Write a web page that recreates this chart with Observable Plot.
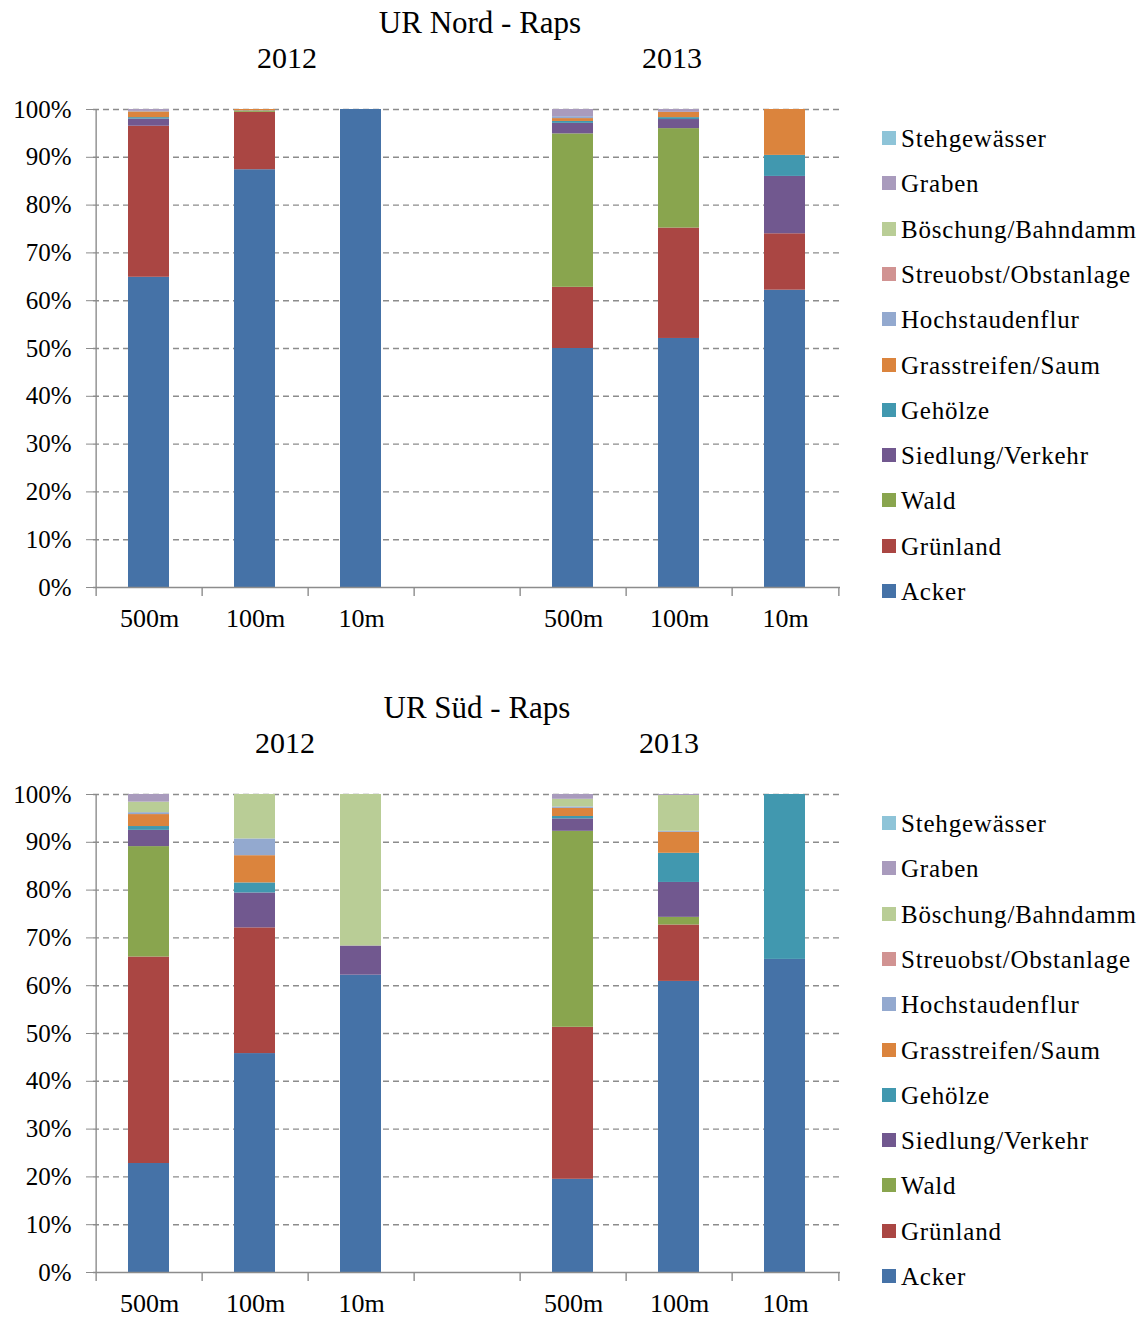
<!DOCTYPE html>
<html>
<head>
<meta charset="utf-8">
<script src="https://cdn.jsdelivr.net/npm/d3@7"></script>
<script src="https://cdn.jsdelivr.net/npm/@observablehq/plot@0.6"></script>
<style>
  html, body { margin: 0; padding: 0; background: #fff; }
  #root { position: relative; width: 1148px; height: 1318px; overflow: hidden; font-family: 'Liberation Serif', 'Times New Roman', serif; color: #000; }
  .panel { position: absolute; left: 0; width: 1148px; height: 685px; }
  .panel svg { position: absolute; left: 0; top: 0; }
  .lbl { position: absolute; white-space: nowrap; line-height: 1; transform: translate(-50%, -50%); }
  .leg { position: absolute; left: 882px; height: 14px; }
  .leg .sw { position: absolute; left: 0; top: 0; width: 14px; height: 14px; }
  .leg .tx { position: absolute; left: 19px; top: 7px; transform: translateY(-50%); font-size: 25px; line-height: 1; white-space: nowrap; letter-spacing: 0.8px; }
</style>
</head>
<body>
<div id="root"></div>
<script>
// ---- categories ----
const years = ["2012", "2013"];
const distances = ["500m", "100m", "10m"];
const slots = ["2012|500m", "2012|100m", "2012|10m", "gap", "2013|500m", "2013|100m", "2013|10m"];
const barKeys = ["2012|500m", "2012|100m", "2012|10m", "2013|500m", "2013|100m", "2013|10m"];

// ---- series (bottom to top) ----
const series = ["Acker", "Grünland", "Wald", "Siedlung/Verkehr", "Gehölze", "Grasstreifen/Saum",
  "Hochstaudenflur", "Streuobst/Obstanlage", "Böschung/Bahndamm", "Graben", "Stehgewässer"];
const colors = ["#4572A7", "#AA4643", "#89A54E", "#71588F", "#4198AF", "#DB843D",
  "#93A9CF", "#D19392", "#B9CD96", "#A99BBD", "#8EC4D8"];

// ---- y ticks ----
const yTicks = [0, 10, 20, 30, 40, 50, 60, 70, 80, 90, 100];

// ---- UR Nord - Raps values (% per bar, order of barKeys) ----
const nordAcker        = [64.9, 87.4, 100, 50.0, 52.1, 62.2];
const nordGruenland    = [31.6, 12.0, 0, 12.8, 23.1, 11.8];
const nordWald         = [0, 0.2, 0, 32.1, 20.8, 0];
const nordSiedlung     = [1.5, 0, 0, 2.2, 1.9, 12.0];
const nordGehoelze     = [0.3, 0.1, 0, 0.4, 0.4, 4.4];
const nordGras         = [1.2, 0.3, 0, 0.6, 1.1, 9.6];
const nordHochstauden  = [0.1, 0, 0, 0.4, 0, 0];
const nordStreuobst    = [0, 0, 0, 0, 0, 0];
const nordBoeschung    = [0, 0, 0, 0, 0, 0];
const nordGraben       = [0.4, 0, 0, 1.5, 0.6, 0];
const nordSteh         = [0, 0, 0, 0, 0, 0];

// ---- UR Süd - Raps values ----
const suedAcker        = [22.8, 45.8, 62.2, 19.5, 60.9, 65.5];
const suedGruenland    = [43.2, 26.3, 0, 31.8, 11.8, 0];
const suedWald         = [23.1, 0, 0, 41.0, 1.6, 0];
const suedSiedlung     = [3.4, 7.3, 6.1, 2.6, 7.3, 0];
const suedGehoelze     = [0.8, 2.1, 0, 0.5, 6.1, 34.5];
const suedGras         = [2.5, 5.7, 0, 1.7, 4.4, 0];
const suedHochstauden  = [0.4, 3.5, 0, 0.3, 0.2, 0];
const suedStreuobst    = [0, 0, 0, 0, 0, 0];
const suedBoeschung    = [2.2, 9.3, 31.7, 1.6, 7.5, 0];
const suedGraben       = [1.6, 0, 0, 1.0, 0.2, 0];
const suedSteh         = [0, 0, 0, 0, 0, 0];

const nordValues = [nordAcker, nordGruenland, nordWald, nordSiedlung, nordGehoelze, nordGras,
  nordHochstauden, nordStreuobst, nordBoeschung, nordGraben, nordSteh];
const suedValues = [suedAcker, suedGruenland, suedWald, suedSiedlung, suedGehoelze, suedGras,
  suedHochstauden, suedStreuobst, suedBoeschung, suedGraben, suedSteh];

const root = document.getElementById("root");

function panel(title, titleX, yearXs, values, top) {
  const div = document.createElement("div");
  div.className = "panel";
  div.style.top = top + "px";
  root.appendChild(div);

  const data = [];
  series.forEach((s, si) => barKeys.forEach((k, bi) => {
    const v = values[si][bi];
    if (v > 0) data.push({slot: k, series: s, value: v});
  }));

  const W = 860, H = 640, ML = 93, MR = 20, MT = 109, MB = 53;
  const bw = (W - ML - MR) / slots.length;
  const gray = "#8c8c8c";

  const plot = Plot.plot({
    width: W, height: H,
    marginLeft: ML, marginRight: MR, marginTop: MT, marginBottom: MB,
    style: {fontFamily: "'Liberation Serif', 'Times New Roman', serif", fontSize: "25px", background: "transparent", color: "#000", overflow: "visible"},
    x: {domain: slots, padding: 0, axis: null, label: null},
    y: {domain: [0, 100], axis: null, label: null},
    color: {domain: series, range: colors},
    marks: [
      Plot.ruleY(yTicks.filter(d => d > 0), {stroke: gray, strokeWidth: 1.4, strokeDasharray: "6,4"}),
      Plot.barY(data, {x: "slot", y: "value", fill: "series", insetLeft: 32, insetRight: 33}),
      Plot.ruleY([0], {stroke: gray, strokeWidth: 1.4}),
      Plot.ruleX([slots[0]], {dx: -bw / 2, y1: 0, y2: 100, stroke: gray, strokeWidth: 1.4}),
      Plot.ruleX(slots, {dx: -bw / 2, y1: 0, y2: -1.9, stroke: gray, strokeWidth: 1.4}),
      Plot.ruleX([slots[slots.length - 1]], {dx: bw / 2, y1: 0, y2: -1.9, stroke: gray, strokeWidth: 1.4}),
      Plot.axisY({ticks: yTicks, tickFormat: d => d + "%", tickSize: 7, tickPadding: 15, stroke: gray, fontSize: 25, label: null}),
      Plot.axisX({tickSize: 0, tickPadding: 21, tickFormat: k => k === "gap" ? "" : k.split("|")[1], fontSize: 26, label: null})
    ]
  });
  div.appendChild(plot);

  const t = document.createElement("div");
  t.className = "lbl";
  t.style.left = titleX + "px"; t.style.top = "21.5px"; t.style.fontSize = "31px";
  t.textContent = title;
  div.appendChild(t);

  years.forEach((y, i) => {
    const e = document.createElement("div");
    e.className = "lbl";
    e.style.left = yearXs[i] + "px"; e.style.top = "58px"; e.style.fontSize = "30px";
    e.textContent = y;
    div.appendChild(e);
  });

  const legendOrder = series.slice().reverse();
  legendOrder.forEach((s, i) => {
    const cy = 138 + i * 45.3;
    const item = document.createElement("div");
    item.className = "leg";
    item.style.top = (cy - 7) + "px";
    const sw = document.createElement("div");
    sw.className = "sw";
    sw.style.background = colors[series.indexOf(s)];
    const tx = document.createElement("div");
    tx.className = "tx";
    tx.textContent = s;
    item.appendChild(sw); item.appendChild(tx);
    div.appendChild(item);
  });
}

panel("UR Nord - Raps", 480, [287, 672], nordValues, 0);
panel("UR Süd - Raps", 477, [285, 669], suedValues, 685);
</script>
</body>
</html>
